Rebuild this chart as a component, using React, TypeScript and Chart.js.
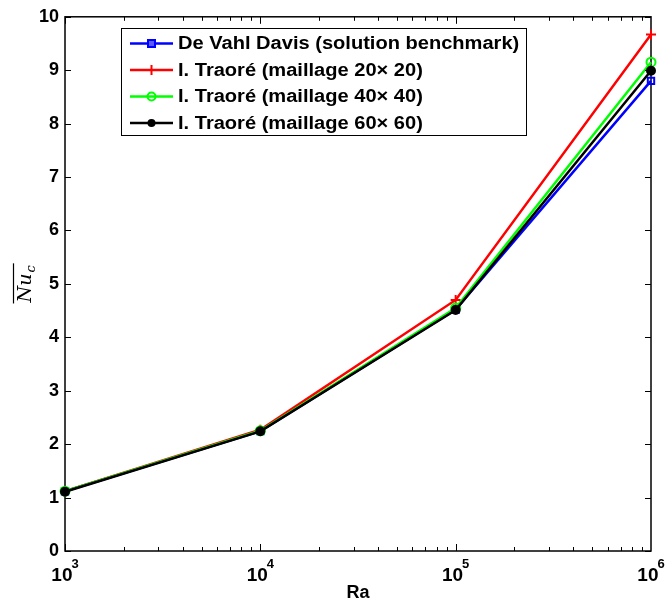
import React, { useEffect, useRef } from "react";
import { Chart, registerables } from "chart.js";

Chart.register(...registerables);

const RA = [1e3, 1e4, 1e5, 1e6];
const DAVIS = [1.118, 2.243, 4.519, 8.8];
const MESH20 = [1.12, 2.27, 4.7, 9.67];
const MESH40 = [1.12, 2.25, 4.55, 9.15];
const MESH60 = [1.11, 2.24, 4.51, 8.99];
const Y_TICKS = [0, 1, 2, 3, 4, 5, 6, 7, 8, 9, 10];
const X_DECADES = [3, 4, 5, 6];
const LEGEND_LABELS = [
  "De Vahl Davis (solution benchmark)",
  "I. Traoré (maillage 20\u00d7 20)",
  "I. Traoré (maillage 40\u00d7 40)",
  "I. Traoré (maillage 60\u00d7 60)",
];
const COLORS = ["#0000ff", "#ff0000", "#00ff00", "#000000"];

const FONT = "'Liberation Sans', Arial, Helvetica, sans-serif";
const SERIF = "'DejaVu Serif', 'Liberation Serif', serif";

const toXY = (vals: number[]) => RA.map((r, i) => ({ x: r, y: vals[i] }));

const drawMarker = (ctx: CanvasRenderingContext2D, kind: number, x: number, y: number) => {
  ctx.save();
  ctx.strokeStyle = COLORS[kind];
  ctx.fillStyle = COLORS[kind];
  ctx.lineWidth = 2;
  if (kind === 0) {
    ctx.fillStyle = "#5a5aff";
    ctx.fillRect(x - 3.5, y - 3.5, 7, 7);
    ctx.strokeRect(x - 3.5, y - 3.5, 7, 7);
  } else if (kind === 1) {
    ctx.beginPath();
    ctx.moveTo(x - 5, y);
    ctx.lineTo(x + 5, y);
    ctx.moveTo(x, y - 5);
    ctx.lineTo(x, y + 5);
    ctx.stroke();
  } else if (kind === 2) {
    ctx.beginPath();
    ctx.arc(x, y, 4, 0, Math.PI * 2);
    ctx.stroke();
  } else {
    ctx.beginPath();
    ctx.arc(x, y, 4, 0, Math.PI * 2);
    ctx.fill();
  }
  ctx.restore();
};

const framePlugin = {
  id: "frame",
  beforeDatasetsDraw(chart: any) {
    const { ctx, chartArea } = chart;
    const { left, right, top, bottom } = chartArea;
    ctx.save();
    ctx.strokeStyle = "#000";
    ctx.lineWidth = 1.5;
    ctx.strokeRect(left, top, right - left, bottom - top);
    ctx.restore();
  },
  afterDraw(chart: any) {
    const { ctx, chartArea, scales } = chart;
    const { left, right, top, bottom } = chartArea;
    const xs = scales.x;
    const ys = scales.y;
    ctx.save();
    ctx.strokeStyle = "#000";
    ctx.lineWidth = 1;
    // y ticks
    Y_TICKS.forEach((v) => {
      const p = Math.round(ys.getPixelForValue(v)) + 0.5;
      ctx.beginPath();
      ctx.moveTo(left, p);
      ctx.lineTo(left + 6, p);
      ctx.moveTo(right, p);
      ctx.lineTo(right - 6, p);
      ctx.stroke();
    });
    // x ticks
    for (let d = 3; d <= 5; d++) {
      for (let m = 1; m <= 9; m++) {
        const v = m * Math.pow(10, d);
        const p = Math.round(xs.getPixelForValue(v)) + 0.5;
        const len = m === 1 ? 7 : 4;
        ctx.beginPath();
        ctx.moveTo(p, bottom);
        ctx.lineTo(p, bottom - len);
        ctx.moveTo(p, top);
        ctx.lineTo(p, top + len);
        ctx.stroke();
      }
    }
    // x tick labels
    ctx.fillStyle = "#000";
    ctx.textBaseline = "alphabetic";
    X_DECADES.forEach((d) => {
      const p = xs.getPixelForValue(Math.pow(10, d));
      ctx.font = `bold 19px ${FONT}`;
      const w1 = ctx.measureText("10").width;
      ctx.font = `bold 13px ${FONT}`;
      const w2 = ctx.measureText(String(d)).width;
      const x0 = p - (w1 + w2 - 1) / 2;
      ctx.font = `bold 19px ${FONT}`;
      ctx.textAlign = "left";
      ctx.fillText("10", x0, bottom + 30);
      ctx.font = `bold 13px ${FONT}`;
      ctx.fillText(String(d), x0 + w1 - 1, bottom + 17);
    });
    // x title
    ctx.font = `bold 18px ${FONT}`;
    ctx.textAlign = "center";
    ctx.fillText("Ra", (left + right) / 2, bottom + 47);
    // y title: overline Nu_c
    ctx.save();
    ctx.translate(31, (top + bottom) / 2);
    ctx.rotate(-Math.PI / 2);
    ctx.font = `italic 19px ${SERIF}`;
    ctx.textAlign = "left";
    const wNu = ctx.measureText("Nu").width;
    ctx.font = `italic 13px ${SERIF}`;
    const wc = ctx.measureText("c").width;
    const total = wNu + wc + 1;
    const sx = -total / 2;
    ctx.font = `italic 19px ${SERIF}`;
    ctx.fillText("Nu", sx, 0);
    ctx.font = `italic 13px ${SERIF}`;
    ctx.fillText("c", sx + wNu + 1, 4);
    ctx.lineWidth = 1.2;
    ctx.beginPath();
    ctx.moveTo(sx - 1, -17.5);
    ctx.lineTo(sx + total + 2, -17.5);
    ctx.stroke();
    ctx.restore();
    // legend
    const lx = 121, ly = 28, lw = 405, lh = 107;
    ctx.fillStyle = "#fff";
    ctx.fillRect(lx, ly, lw, lh);
    ctx.strokeStyle = "#000";
    ctx.lineWidth = 1;
    ctx.strokeRect(lx + 0.5, ly + 0.5, lw, lh);
    const rows = [43.5, 70, 96.5, 123];
    LEGEND_LABELS.forEach((lab, i) => {
      const yy = rows[i];
      ctx.strokeStyle = COLORS[i];
      ctx.lineWidth = 2.5;
      ctx.beginPath();
      ctx.moveTo(130, yy);
      ctx.lineTo(173, yy);
      ctx.stroke();
      drawMarker(ctx, i, 151.5, yy);
      ctx.save();
      ctx.fillStyle = "#000";
      ctx.font = `bold 18px ${FONT}`;
      ctx.textAlign = "left";
      ctx.textBaseline = "middle";
      ctx.translate(178, yy + 1);
      ctx.scale(1.115, 1);
      ctx.fillText(lab, 0, 0);
      ctx.restore();
    });
    ctx.restore();
  },
};

export default function App() {
  const ref = useRef<HTMLCanvasElement | null>(null);
  useEffect(() => {
    if (!ref.current) return;
    const mk = (label: string, vals: number[], i: number, style: any, radius: number, bg: string, order: number) => ({
      label,
      data: toXY(vals),
      borderColor: COLORS[i],
      backgroundColor: bg,
      borderWidth: 2.5,
      pointStyle: style,
      pointRadius: radius,
      pointBorderWidth: 2,
      pointBorderColor: COLORS[i],
      pointBackgroundColor: bg,
      tension: 0,
      clip: false,
      order,
    });
    const chart = new Chart(ref.current, {
      type: "line",
      data: {
        datasets: [
          mk(LEGEND_LABELS[0], DAVIS, 0, "rect", 4.5, "rgba(255,255,255,0)", 3),
          mk(LEGEND_LABELS[1], MESH20, 1, "cross", 5, COLORS[1], 2),
          mk(LEGEND_LABELS[2], MESH40, 2, "circle", 4.5, "rgba(255,255,255,0)", 1),
          mk(LEGEND_LABELS[3], MESH60, 3, "circle", 4, COLORS[3], 0),
        ],
      },
      options: {
        animation: false,
        responsive: false,
        maintainAspectRatio: false,
        layout: { padding: { top: 15, right: 14, left: 0, bottom: 0 } },
        plugins: { legend: { display: false }, tooltip: { enabled: false } },
        scales: {
          x: {
            type: "logarithmic",
            min: 1e3,
            max: 1e6,
            grid: { display: false, drawTicks: false },
            border: { display: false },
            ticks: { display: false },
            afterFit: (s: any) => {
              s.height = 52;
            },
          },
          y: {
            type: "linear",
            min: 0,
            max: 10,
            grid: { display: false, drawTicks: false },
            border: { display: false },
            ticks: {
              stepSize: 1,
              padding: 6,
              color: "#000",
              font: { family: FONT, size: 18, weight: "bold" },
            },
            afterFit: (s: any) => {
              s.width = 65;
            },
          },
        },
      },
      plugins: [framePlugin],
    } as any);
    return () => chart.destroy();
  }, []);
  return (
    <div style={{ position: "absolute", left: 0, top: 0, width: 665, height: 603, background: "#fff" }}>
      <canvas ref={ref} width={665} height={603} style={{ width: 665, height: 603 }} />
    </div>
  );
}
